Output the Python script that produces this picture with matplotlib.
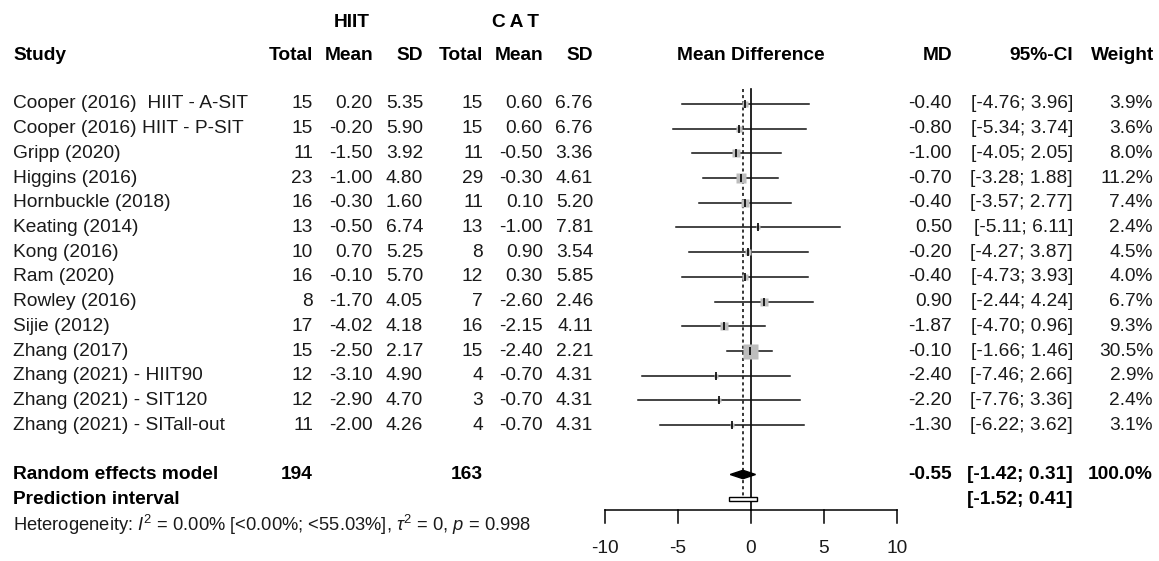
import numpy as np
import matplotlib
matplotlib.use('Agg')
import matplotlib.pyplot as plt

plt.rcParams['font.family'] = ['Liberation Sans', 'DejaVu Sans']
plt.rcParams['mathtext.fontset'] = 'custom'
plt.rcParams['mathtext.rm'] = 'Liberation Sans'
plt.rcParams['mathtext.it'] = 'Liberation Sans:italic'

# data
studies = ['Cooper (2016)  HIIT - A-SIT', 'Cooper (2016) HIIT - P-SIT', 'Gripp (2020)',
           'Higgins (2016)', 'Hornbuckle (2018)', 'Keating (2014)', 'Kong (2016)',
           'Ram (2020)', 'Rowley (2016)', 'Sijie (2012)', 'Zhang (2017)',
           'Zhang (2021) - HIIT90', 'Zhang (2021) - SIT120', 'Zhang (2021) - SITall-out']
hiit_n = [15, 15, 11, 23, 16, 13, 10, 16, 8, 17, 15, 12, 12, 11]
hiit_mean = [0.20, -0.20, -1.50, -1.00, -0.30, -0.50, 0.70, -0.10, -1.70, -4.02, -2.50, -3.10, -2.90, -2.00]
hiit_sd = [5.35, 5.90, 3.92, 4.80, 1.60, 6.74, 5.25, 5.70, 4.05, 4.18, 2.17, 4.90, 4.70, 4.26]
cat_n = [15, 15, 11, 29, 11, 13, 8, 12, 7, 16, 15, 4, 3, 4]
cat_mean = [0.60, 0.60, -0.50, -0.30, 0.10, -1.00, 0.90, 0.30, -2.60, -2.15, -2.40, -0.70, -0.70, -0.70]
cat_sd = [6.76, 6.76, 3.36, 4.61, 5.20, 7.81, 3.54, 5.85, 2.46, 4.11, 2.21, 4.31, 4.31, 4.31]
md = [-0.40, -0.80, -1.00, -0.70, -0.40, 0.50, -0.20, -0.40, 0.90, -1.87, -0.10, -2.40, -2.20, -1.30]
ci_lo = [-4.76, -5.34, -4.05, -3.28, -3.57, -5.11, -4.27, -4.73, -2.44, -4.70, -1.66, -7.46, -7.76, -6.22]
ci_hi = [3.96, 3.74, 2.05, 1.88, 2.77, 6.11, 3.87, 3.93, 4.24, 0.96, 1.46, 2.66, 3.36, 3.62]
weight = [3.9, 3.6, 8.0, 11.2, 7.4, 2.4, 4.5, 4.0, 6.7, 9.3, 30.5, 2.9, 2.4, 3.1]

re_md, re_lo, re_hi = -0.55, -1.42, 0.31
pi_lo, pi_hi = -1.52, 0.41
tot_hiit, tot_cat = 194, 163
xticks = [-10, -5, 0, 5, 10]

W, H = 1159, 561
fig = plt.figure(figsize=(W / 100, H / 100), dpi=100)
ax = fig.add_axes([0, 0, 1, 1])
ax.axis('off')

# x in MD units (-10 at px 605, 10 at px 897), y in row units (row 0 at px 104)
px_per_unit = (897 - 605) / 20
row0, row_h = 104, 24.7
ax.set_xlim(-10 - 605 / px_per_unit, -10 + (W - 605) / px_per_unit)
ax.set_ylim((H - row0) / row_h, -row0 / row_h)

tr = ax.get_yaxis_transform()  # x axes fraction, y data
def col(px):
    return px / W

fs = 13.8
txt = '#1a1a1a'
n = len(studies)
rows = np.arange(n)
re_row = n + 1
pi_row = n + 2

# headers
ax.text(col(352), -3.28, 'HIIT', transform=tr, ha='center', va='center', fontsize=fs, fontweight='bold')
ax.text(col(515), -3.28, 'C\u2009A\u2009T', transform=tr, ha='center', va='center', fontsize=fs,
        fontweight='bold', family=['Liberation Sans', 'DejaVu Sans'])
hy = -1.95
ax.text(col(13), hy, 'Study', transform=tr, ha='left', va='center', fontsize=fs, fontweight='bold')
for x, lab in [(313, 'Total'), (373, 'Mean'), (423, 'SD'), (483, 'Total'), (543, 'Mean'), (593, 'SD'),
               (952, 'MD'), (1073, '95%-CI'), (1154, 'Weight')]:
    ax.text(col(x), hy, lab, transform=tr, ha='right', va='center', fontsize=fs, fontweight='bold')
ax.text(0, hy, 'Mean Difference', ha='center', va='center', fontsize=fs, fontweight='bold')

# study rows
for i in rows:
    ax.text(col(13), i, studies[i], transform=tr, ha='left', va='center', fontsize=fs, color=txt)
    vals = [(313, f'{hiit_n[i]}'), (373, f'{hiit_mean[i]:.2f}'), (423, f'{hiit_sd[i]:.2f}'),
            (483, f'{cat_n[i]}'), (543, f'{cat_mean[i]:.2f}'), (593, f'{cat_sd[i]:.2f}'),
            (952, f'{md[i]:.2f}'), (1073, f'[{ci_lo[i]:.2f}; {ci_hi[i]:.2f}]'),
            (1153, f'{weight[i]:.1f}%')]
    for x, s in vals:
        ax.text(col(x), i, s, transform=tr, ha='right', va='center', fontsize=fs, color=txt)

# summary rows
ax.text(col(13), re_row, 'Random effects model', transform=tr, ha='left', va='center', fontsize=fs, fontweight='bold')
ax.text(col(313), re_row, str(tot_hiit), transform=tr, ha='right', va='center', fontsize=fs, fontweight='bold')
ax.text(col(483), re_row, str(tot_cat), transform=tr, ha='right', va='center', fontsize=fs, fontweight='bold')
ax.text(col(952), re_row, f'{re_md:.2f}', transform=tr, ha='right', va='center', fontsize=fs, fontweight='bold')
ax.text(col(1073), re_row, f'[{re_lo:.2f}; {re_hi:.2f}]', transform=tr, ha='right', va='center', fontsize=fs, fontweight='bold')
ax.text(col(1153), re_row, '100.0%', transform=tr, ha='right', va='center', fontsize=fs, fontweight='bold')
ax.text(col(13), pi_row, 'Prediction interval', transform=tr, ha='left', va='center', fontsize=fs, fontweight='bold')
ax.text(col(1073), pi_row, f'[{pi_lo:.2f}; {pi_hi:.2f}]', transform=tr, ha='right', va='center', fontsize=fs, fontweight='bold')
ax.text(col(13), 17.05,
        r'Heterogeneity: $\mathit{I}^2$ = 0.00% [<0.00%; <55.03%], $\tau^2$ = 0, $\mathit{p}$ = 0.998',
        transform=tr, ha='left', va='center', fontsize=13.2, color=txt)

# reference lines
ax.plot([0, 0], [-0.6, 16.45], color='black', lw=1.2)
ax.plot([re_md, re_md], [-0.6, pi_row], color='black', lw=1.1, ls=(0, (2, 2)))

# study CIs and squares
for i in rows:
    ax.plot([ci_lo[i], ci_hi[i]], [i, i], color='#111111', lw=1.1)
    side = 15 * np.sqrt(weight[i] / 30.5) * 0.72
    ax.plot(md[i], i, marker='s', ms=side, color='#bdbdbd', mec='none', zorder=3)
    ax.plot(md[i], i, marker='|', ms=5.5, mew=1.2, color='black', zorder=4)

# random effects diamond and prediction interval
dh = 0.17
ax.fill([re_lo, re_md, re_hi, re_md], [re_row, re_row - dh, re_row, re_row + dh],
        color='black', zorder=5)
ax.fill([pi_lo, pi_hi, pi_hi, pi_lo], [pi_row - 0.08, pi_row - 0.08, pi_row + 0.08, pi_row + 0.08],
        facecolor='white', edgecolor='black', lw=1, zorder=5)

# x axis drawn by hand under the forest
ay = 16.45
ax.plot([xticks[0], xticks[-1]], [ay, ay], color='black', lw=1.1)
for t in xticks:
    ax.plot([t, t], [ay, ay + 0.52], color='black', lw=1.1)
    ax.text(t, ay + 1.53, str(t), ha='center', va='center', fontsize=fs, color=txt)

fig.savefig('out.png', dpi=100, facecolor='white')
